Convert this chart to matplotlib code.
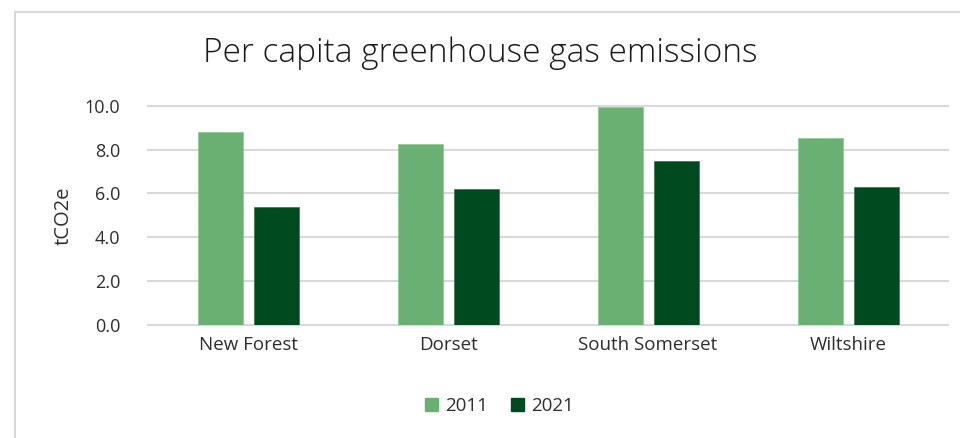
import numpy as np
import matplotlib.pyplot as plt
from matplotlib.lines import Line2D

# ── Data ──────────────────────────────────────────────────────────────────────
districts = ["New Forest", "Dorset", "South Somerset", "Wiltshire"]
years = ["2011", "2021"]
emis_2011 = [8.81, 8.24, 9.94, 8.53]
emis_2021 = [5.37, 6.19, 7.48, 6.31]
y_ticks = [0, 2, 4, 6, 8, 10]

# ── Style ─────────────────────────────────────────────────────────────────────
LIGHT_GREEN = "#69B072"
DARK_GREEN = "#004A1F"
GRID_GREY = "#D9D9D9"
TEXT_COL = "#2E2E2E"
plt.rcParams["font.family"] = ["Open Sans", "DejaVu Sans"]

fig = plt.figure(figsize=(9.6, 4.38), dpi=100)
ax = fig.add_axes([0.1542, 0.258, 0.8333, 0.5007])

x = np.arange(len(districts))
width = 0.225
offset = 0.14
ax.bar(x - offset, emis_2011, width, color=LIGHT_GREEN, label=years[0],
       edgecolor="#8CC694", linewidth=0.5, zorder=3)
ax.bar(x + offset, emis_2021, width, color=DARK_GREEN, label=years[1],
       edgecolor="#3C6F4C", linewidth=0.5, zorder=3)

ax.set_xlim(-0.5, len(districts) - 0.5)
ax.set_ylim(0, 10)
ax.set_yticks(y_ticks)
ax.set_yticklabels([f"{v:.1f}" for v in y_ticks])
ax.set_xticks(x)
ax.set_xticklabels(districts)

for v in y_ticks:
    ax.axhline(v, color=GRID_GREY, linewidth=1.5, zorder=1, clip_on=False)

for s in ax.spines.values():
    s.set_visible(False)
ax.tick_params(axis="y", length=0, colors=TEXT_COL, labelsize=13, pad=20)
ax.tick_params(axis="x", length=0, colors=TEXT_COL, labelsize=13.5, pad=8)

ax.set_ylabel("tCO2e", fontsize=14.5, color=TEXT_COL, labelpad=8)

fig.text(0.5, 0.878, "Per capita greenhouse gas emissions", ha="center",
         va="center", fontsize=24, fontweight="light", color="#1A1A1A")

handles = [plt.Rectangle((0, 0), 1, 1, color=LIGHT_GREEN),
           plt.Rectangle((0, 0), 1, 1, color=DARK_GREEN)]
fig.legend(handles, years, loc="center", bbox_to_anchor=(0.52, 0.073),
           ncol=2, frameon=False, fontsize=13.5, handlelength=0.7,
           handleheight=0.7, handletextpad=0.4, columnspacing=1.2,
           labelcolor=TEXT_COL)

# outer chart border (only top and left edges visible)
top_y = 1 - 12 / 438
left_x = 15 / 960
fig.add_artist(Line2D([left_x, 1.0], [top_y, top_y], color=GRID_GREY,
                      linewidth=1.5, transform=fig.transFigure))
fig.add_artist(Line2D([left_x, left_x], [0.0, top_y], color=GRID_GREY,
                      linewidth=1.5, transform=fig.transFigure))

fig.savefig("out.png", dpi=100, facecolor="white")
